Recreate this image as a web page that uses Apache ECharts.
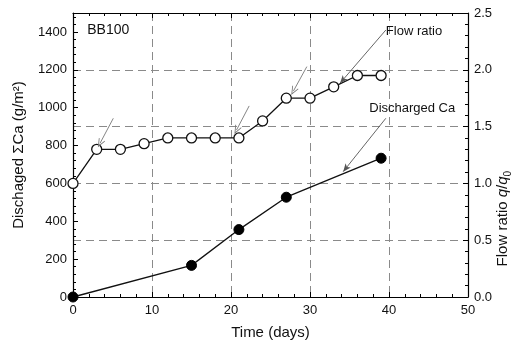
<!DOCTYPE html>
<html>
<head>
<meta charset="utf-8">
<script src="https://cdn.jsdelivr.net/npm/echarts@6/dist/echarts.min.js"></script>
<style>html,body{margin:0;padding:0;background:#fff}#c{width:522px;height:345px}</style>
</head>
<body>
<div id="c"></div>
<script>
// Flow ratio q/q0 (open circles, right axis)
const flowDays = [0, 3, 6, 9, 12, 15, 18, 21, 24, 27, 30, 33, 36, 39];
const flowRatio = [1.0, 1.3, 1.3, 1.35, 1.4, 1.4, 1.4, 1.4, 1.55, 1.75, 1.75, 1.85, 1.95, 1.95];
// Discharged sum Ca (filled circles, left axis)
const caDays = [0, 15, 21, 27, 39];
const caValues = [0, 167, 356, 527, 733];
// Tick settings
const xTicks = [0, 10, 20, 30, 40, 50];
const leftTicks = [0, 200, 400, 600, 800, 1000, 1200, 1400];
const rightTicks = [0.0, 0.5, 1.0, 1.5, 2.0, 2.5];
// Small gray arrows (right-axis units) and annotation pointers
const smallArrows = [[[5.1, 1.573], [3.42, 1.353]], [[22.3, 1.682], [20.7, 1.47]], [[29.6, 2.028], [27.9, 1.813]]];
const flowPointer = [[39.6, 2.35], [33.8, 1.882]];
const caPointer = [[39.6, 944], [34.2, 662]];

const FONT = 'Liberation Sans, Arial, sans-serif';
const TXT = '#111';
const GRID = '#8a8a8a';
const VARROW = 'path://M0,10 L5,0 L10,10 L9,10.6 L5,2.6 L1,10.6 Z';

const chart = echarts.init(document.getElementById('c'), null, {renderer: 'canvas'});

function baseAxis(extra) {
  return Object.assign({
    axisLine: {show: true, onZero: false, lineStyle: {color: '#000', width: 1.2}},
    axisTick: {show: true, inside: true, length: 5, lineStyle: {color: '#000', width: 1}},
    minorTick: {show: true, splitNumber: 5, length: 3, lineStyle: {color: '#000', width: 1}},
    axisLabel: {color: TXT, fontFamily: FONT, fontSize: 13},
  }, extra);
}

const option = {
  animation: false,
  backgroundColor: '#fff',
  grid: {left: 73, right: 54, top: 13, bottom: 48, show: false},
  xAxis: [
    baseAxis({
      type: 'value', min: xTicks[0], max: xTicks[xTicks.length - 1], interval: 10,
      position: 'bottom',
      name: 'Time (days)', nameLocation: 'middle', nameGap: 28,
      nameTextStyle: {color: TXT, fontFamily: FONT, fontSize: 15},
      axisLabel: {color: TXT, fontFamily: FONT, fontSize: 13, margin: 7},
      splitLine: {show: true, showMinLine: false, showMaxLine: false, lineStyle: {color: GRID, type: [8, 5], width: 1}}
    }),
    baseAxis({
      type: 'value', min: 0, max: 50, interval: 10, position: 'top',
      axisLabel: {show: false}, splitLine: {show: false}
    })
  ],
  yAxis: [
    baseAxis({
      type: 'value', min: 0, max: 1500, interval: 200, position: 'left',
      name: 'Dischaged ΣCa (g/m²)', nameLocation: 'middle', nameGap: 47, nameRotate: 90,
      nameTextStyle: {color: TXT, fontFamily: FONT, fontSize: 15},
      axisLabel: {color: TXT, fontFamily: FONT, fontSize: 13, margin: 6,
        formatter: v => leftTicks.indexOf(v) >= 0 ? String(v) : ''},
      splitLine: {show: false}
    }),
    baseAxis({
      type: 'value', min: 0, max: 2.5, interval: 0.5, position: 'right',
      axisLabel: {color: TXT, fontFamily: FONT, fontSize: 13, margin: 6,
        formatter: v => rightTicks.indexOf(v) >= 0 ? v.toFixed(1) : ''},
      splitLine: {show: true, showMinLine: false, showMaxLine: false, lineStyle: {color: GRID, type: [8, 5], width: 1}}
    })
  ],
  series: [
    {
      name: 'Flow ratio', type: 'line', xAxisIndex: 0, yAxisIndex: 1,
      data: flowDays.map((d, i) => [d, flowRatio[i]]),
      symbol: 'circle', symbolSize: 10, showAllSymbol: true,
      lineStyle: {color: '#111', width: 1.3},
      itemStyle: {color: '#fff', borderColor: '#111', borderWidth: 1.3},
      z: 3,
      markLine: {
        silent: true, symbol: ['none', VARROW], symbolSize: [7, 9], precision: 4,
        label: {show: false},
        lineStyle: {color: '#777', width: 0.9, type: 'solid'},
        data: smallArrows.map(a => [{coord: a[0]}, {coord: a[1]}]).concat([
          [{coord: flowPointer[0], symbol: 'none', lineStyle: {color: '#555', width: 0.9}},
           {coord: flowPointer[1], symbol: 'arrow', symbolSize: [5, 8]}]
        ])
      }
    },
    {
      name: 'Discharged Ca', type: 'line', xAxisIndex: 0, yAxisIndex: 0,
      data: caDays.map((d, i) => [d, caValues[i]]),
      symbol: 'circle', symbolSize: 10, showAllSymbol: true,
      lineStyle: {color: '#111', width: 1.3},
      itemStyle: {color: '#000', borderColor: '#000', borderWidth: 1},
      z: 3,
      markLine: {
        silent: true, symbol: ['none', 'arrow'], symbolSize: [5, 8], precision: 4,
        label: {show: false},
        lineStyle: {color: '#555', width: 0.9, type: 'solid'},
        data: [[{coord: caPointer[0]}, {coord: caPointer[1]}]]
      }
    }
  ]
};
chart.setOption(option);

function px(x, y, yi) {
  return chart.convertToPixel({xAxisIndex: 0, yAxisIndex: yi || 0}, [x, y]);
}
const pBB = px(1.8, 1407);
const pFlow = px(39.6, 1405);
const pCa = px(37.5, 998);
const pRight = px(50, 0.69, 1);
chart.setOption({
  graphic: [
    {type: 'text', x: pBB[0], y: pBB[1], style: {text: 'BB100', fill: TXT, font: '14px ' + FONT, verticalAlign: 'middle', align: 'left'}},
    {type: 'text', x: pFlow[0], y: pFlow[1], style: {text: 'Flow ratio', fill: TXT, font: '13px ' + FONT, verticalAlign: 'middle', align: 'left'}},
    {type: 'text', x: pCa[0], y: pCa[1], style: {text: 'Discharged Ca', fill: TXT, font: '13px ' + FONT, verticalAlign: 'middle', align: 'left'}},
    {type: 'text', x: pRight[0] + 35, y: pRight[1], rotation: Math.PI / 2,
      style: {
        text: '{a|Flow ratio }{i|q}{a|/}{i|q}{s|0}',
        align: 'center', verticalAlign: 'middle', fill: TXT,
        rich: {
          a: {fontFamily: FONT, fontSize: 15, color: TXT, lineHeight: 20, verticalAlign: 'middle'},
          i: {fontFamily: FONT, fontSize: 15, fontStyle: 'italic', color: TXT, lineHeight: 20, verticalAlign: 'middle'},
          s: {fontFamily: FONT, fontSize: 10, color: TXT, lineHeight: 20, verticalAlign: 'bottom'}
        }
      }}
  ]
});
</script>
</body>
</html>
